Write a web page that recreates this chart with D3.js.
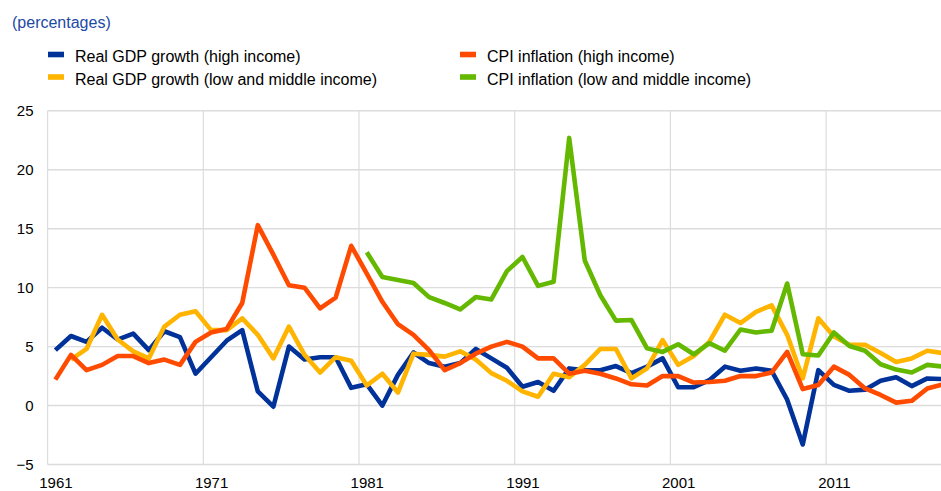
<!DOCTYPE html>
<html>
<head>
<meta charset="utf-8">
<script src="https://cdn.jsdelivr.net/npm/d3@7"></script>
<style>
  html, body { margin: 0; padding: 0; background: #fff; overflow: hidden; }
  svg { display: block; font-family: Arial, "Liberation Sans", sans-serif; }
</style>
</head>
<body>
<svg id="chart" width="941" height="491"></svg>
<script>
const years = d3.range(1961, 2019);
const xTickLabels = [1961, 1971, 1981, 1991, 2001, 2011];
const yTicks = [-5, 0, 5, 10, 15, 20, 25];

const gdpHigh = [4.7, 5.9, 5.4, 6.6, 5.6, 6.1, 4.7, 6.3, 5.8, 2.7,
  4.1, 5.5, 6.4, 1.2, -0.1, 5.0, 3.9, 4.1, 4.1, 1.5,
  1.8, 0.0, 2.6, 4.5, 3.6, 3.3, 3.6, 4.8, 4.0, 3.2,
  1.6, 2.0, 1.25, 3.15, 3.0, 3.0, 3.35, 2.75, 3.3, 4.0,
  1.55, 1.55, 2.15, 3.3, 2.95, 3.15, 2.95, 0.5, -3.3, 3.0,
  1.75, 1.25, 1.35, 2.1, 2.4, 1.65, 2.3, 2.25];

const gdpLow = [null, 3.9, 4.8, 7.7, 5.6, 4.6, 4.0, 6.7, 7.7, 8.0,
  6.4, 6.4, 7.4, 6.0, 4.0, 6.7, 4.3, 2.8, 4.1, 3.8,
  1.7, 2.7, 1.1, 4.4, 4.3, 4.15, 4.6, 3.9, 2.75, 2.1,
  1.2, 0.75, 2.7, 2.4, 3.45, 4.8, 4.8, 2.3, 3.15, 5.55,
  3.45, 4.2, 5.4, 7.7, 7.0, 7.95, 8.5, 6.0, 2.3, 7.4,
  5.85, 5.15, 5.15, 4.45, 3.7, 4.0, 4.65, 4.45];

const cpiHigh = [2.2, 4.3, 3.0, 3.45, 4.2, 4.2, 3.6, 3.9, 3.45, 5.4,
  6.2, 6.5, 8.7, 15.3, 12.8, 10.2, 10.0, 8.25, 9.15, 13.55,
  11.2, 8.8, 6.9, 6.0, 4.7, 3.0, 3.6, 4.4, 5.0, 5.4,
  5.0, 4.0, 4.0, 2.7, 2.95, 2.7, 2.3, 1.8, 1.7, 2.5,
  2.5, 1.95, 2.0, 2.1, 2.5, 2.5, 2.8, 4.55, 1.4, 1.75,
  3.3, 2.6, 1.45, 0.9, 0.25, 0.4, 1.45, 1.8];

const cpiLow = [null, null, null, null, null, null, null, null, null, null,
  null, null, null, null, null, null, null, null, null, null,
  13.0, 10.9, 10.65, 10.4, 9.2, 8.7, 8.15, 9.2, 9.0, 11.4,
  12.6, 10.15, 10.5, 22.7, 12.3, 9.35, 7.2, 7.25, 4.85, 4.55,
  5.2, 4.35, 5.3, 4.65, 6.45, 6.2, 6.35, 10.35, 4.35, 4.25,
  6.2, 5.05, 4.65, 3.5, 3.05, 2.8, 3.45, 3.3];

const seriesNames = ["Real GDP growth (high income)", "Real GDP growth (low and middle income)",
  "CPI inflation (high income)", "CPI inflation (low and middle income)"];
const seriesColors = ["#003299", "#ffb400", "#ff4b00", "#65b800"];
const seriesValues = [gdpHigh, gdpLow, cpiHigh, cpiLow];

const svg = d3.select("#chart");
const left = 47.6, step = 15.57;
const x = d3.scaleLinear().domain([1960.5, 2018.5]).range([left, left + 58 * step]);
const y = d3.scaleLinear().domain([-5, 25]).range([464.5, 110.8]);
const rightEdge = 941;

// Grid
const grid = svg.append("g");
grid.selectAll("line.h").data(yTicks).join("line")
  .attr("x1", left).attr("x2", rightEdge)
  .attr("y1", d => y(d)).attr("y2", d => y(d))
  .attr("stroke", "#dcdcdc").attr("stroke-width", 1.4);
grid.selectAll("line.v").data(xTickLabels).join("line")
  .attr("x1", d => x(d - 0.5)).attr("x2", d => x(d - 0.5))
  .attr("y1", y(25)).attr("y2", y(-5))
  .attr("stroke", "#dcdcdc").attr("stroke-width", 1.2);

// Y axis labels
const yAxis = d3.axisLeft(y).tickValues(yTicks).tickSize(0).tickPadding(0).tickFormat(d3.format("d"));
const gy = svg.append("g").attr("transform", "translate(33.5,0)").call(yAxis);
gy.select(".domain").remove();
gy.selectAll("text").attr("font-size", "15px").attr("fill", "#000")
  .attr("font-family", "Arial, 'Liberation Sans', sans-serif");

// X axis labels
const xAxis = d3.axisBottom(x).tickValues(xTickLabels).tickSize(0).tickPadding(0).tickFormat(d3.format("d"));
const gx = svg.append("g").attr("transform", "translate(0,477)").call(xAxis);
gx.select(".domain").remove();
gx.selectAll("text").attr("font-size", "15px").attr("fill", "#000")
  .attr("font-family", "Arial, 'Liberation Sans', sans-serif");

// Lines
const line = d3.line()
  .defined(d => d.v !== null)
  .x(d => x(d.year))
  .y(d => y(d.v));
seriesValues.forEach((vals, i) => {
  svg.append("path")
    .datum(years.map((yr, j) => ({ year: yr, v: vals[j] })))
    .attr("fill", "none")
    .attr("stroke", seriesColors[i])
    .attr("stroke-width", 4.6)
    .attr("stroke-linejoin", "round")
    .attr("d", line);
});

// Title
svg.append("text").attr("x", 12).attr("y", 27.5)
  .attr("font-size", "16px").attr("fill", "#1c4aa5")
  .text("(percentages)");

// Legend
const legendPos = [[48, 62], [48, 84.5], [460, 62], [460, 84.5]];
seriesNames.forEach((name, i) => {
  const [lx, ly] = legendPos[i];
  svg.append("rect").attr("x", lx).attr("y", ly - 10.3).attr("width", 16).attr("height", 5.6)
    .attr("fill", seriesColors[i]);
  svg.append("text").attr("x", lx + 27).attr("y", ly)
    .attr("font-size", "16px").attr("fill", "#000").text(name);
});
</script>
</body>
</html>
